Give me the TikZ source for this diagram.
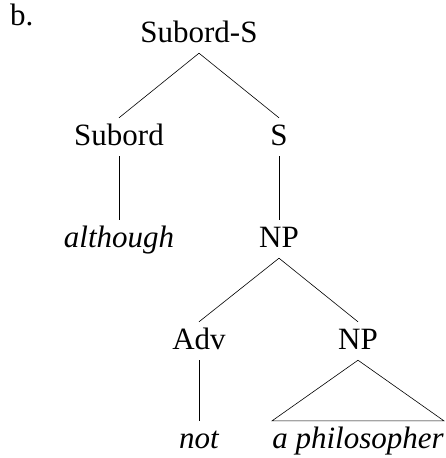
\documentclass[tikz,border=0pt]{standalone}
\usepackage{fontspec}
\setmainfont{Liberation Serif}
\usepackage{tikz}
\usetikzlibrary{positioning}

\begin{document}
\begin{tikzpicture}[
    x=1pt, y=-1pt,
    cat/.style={anchor=base, inner sep=5pt, text height=22pt, text depth=6pt, font=\fontsize{31}{37}\selectfont},
    word/.style={cat, font=\fontsize{31}{37}\selectfont\itshape},
    branch/.style={draw, black, line width=0.6pt}
]
    \useasboundingbox (0,0) rectangle (446,458);

    % Label
    \node[anchor=base west, inner sep=0pt, font=\fontsize{31}{37}\selectfont] (lbl) at (10, 25) {b.};

    % Top level
    \node[cat] (root) at (199, 42) {Subord-S};

    % Second level
    \node[cat] (subord) at (119, 145) {Subord};
    \node[cat] (s) at (279, 145) {S};

    % Third level
    \node[word] (although) at (119, 247) {although};
    \node[cat] (np) at (279, 247) {NP};

    % Fourth level
    \node[cat] (adv) at (199, 349) {Adv};
    \node[cat] (npb) at (358, 349) {NP};

    % Leaves
    \node[word] (not) at (199, 448) {not};
    \node[word, inner xsep=0pt] (phil) at (358, 448) {a philosopher};

    % Branches
    \draw[branch] (root.south) -- (subord.north);
    \draw[branch] (root.south) -- (s.north);
    \draw[branch] (subord.south) -- (although.north);
    \draw[branch] (s.south) -- (np.north);
    \draw[branch] (np.south) -- (adv.north);
    \draw[branch] (np.south) -- (npb.north);
    \draw[branch] (adv.south) -- (not.north);

    % Triangle
    \draw[branch] (npb.south) -- (phil.north west) -- (phil.north east) -- cycle;
\end{tikzpicture}
\end{document}
